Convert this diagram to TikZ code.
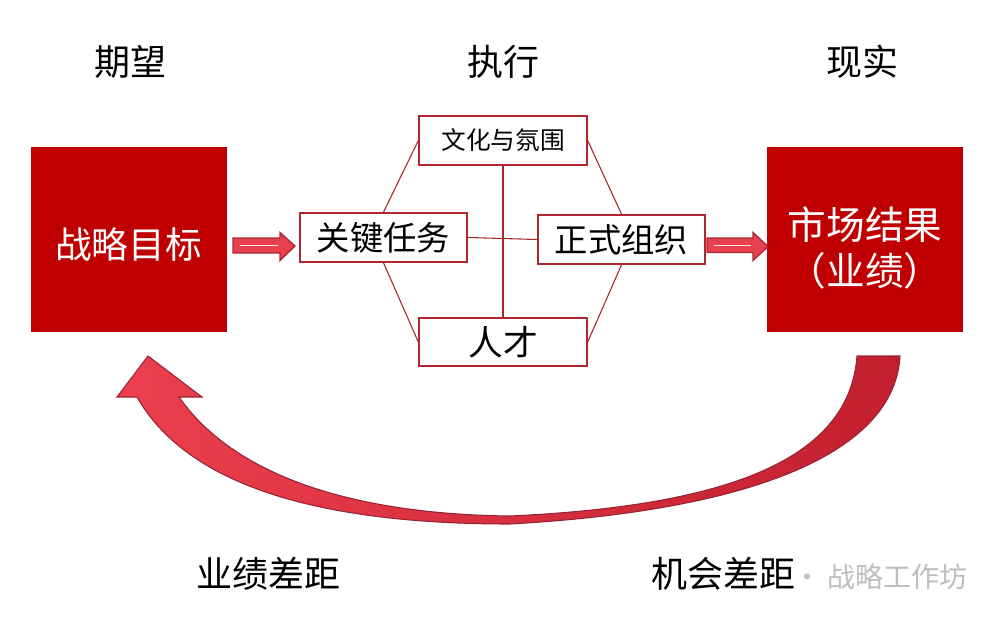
\documentclass[tikz,border=0pt]{standalone}
\usepackage{fontspec}
\setmainfont{Noto Sans CJK SC}
\usetikzlibrary{calc}
\definecolor{boxred}{HTML}{C00000}
\definecolor{linered}{HTML}{A3282C}
\definecolor{framered}{HTML}{B3262E}
\definecolor{arrowfill}{HTML}{E8404C}
\definecolor{arrowedge}{HTML}{A8283A}
\definecolor{curveL}{HTML}{EC3F4D}
\definecolor{curveR}{HTML}{C21F2F}
\definecolor{wm}{HTML}{BEBEBE}
\tikzset{
  bigbox/.style={fill=boxred, draw=boxred, minimum width=146.5pt, minimum height=138pt, inner sep=0pt},
  bigtext/.style={text=white, align=center, inner sep=0pt},
  smallbox/.style={draw=framered, line width=1.5pt, fill=white, minimum width=125.5pt, minimum height=36.5pt, inner sep=0pt},
  conn/.style={draw=linered, line width=0.8pt},
  title/.style={font=\fontsize{27}{30}\selectfont, text=black},
  blockarrow/.style={fill=arrowfill, draw=arrowedge, line width=1pt, line join=miter},
  hilite/.style={draw=white!85!arrowfill, line width=0.8pt},
}
\begin{document}
\begin{tikzpicture}[x=0.75pt,y=-0.75pt]
\useasboundingbox (0,0) rectangle (1003,617);
\fill[white] (0,0) rectangle (1003,617);

% titles
\node[title] (t1) at (130,62) {期望};
\node[title] (t2) at (503,62) {执行};
\node[title] (t3) at (862,62) {现实};

% big boxes
\node[bigbox] (goal) at (128.5,239) {};
\node[bigtext, font=\fontsize{27.5}{30}\selectfont] (goaltext) at ($(goal.center)+(0,6)$) {战略目标};
\node[bigbox] (result) at (865,239) {};
\node[bigtext, font=\fontsize{29}{34}\selectfont] (resulttext) at ($(result.center)+(0,9)$) {市场结果\\（业绩）};

% execution boxes
\node[smallbox, font=\fontsize{18.5}{20}\selectfont] (culture) at (503,140.5) {文化与氛围};
\node[smallbox, font=\fontsize{25}{28}\selectfont] (task) at (383.5,237.5) {关键任务};
\node[smallbox, font=\fontsize{25}{28}\selectfont] (org) at (621.5,239.5) {正式组织};
\node[smallbox, font=\fontsize{26}{28}\selectfont] (talent) at (503,342) {人才};

% connectors
\draw[conn] (culture.west) -- (task.north);
\draw[conn] (task.south) -- (talent.west);
\draw[conn] (culture.east) -- (org.north);
\draw[conn] (org.south) -- (talent.east);
\draw[conn] (culture.south) -- (talent.north);
\draw[conn] (task.east) -- (org.west);

% block arrows
\draw[blockarrow] (233,238) -- (280,238) -- (280,232.5) -- (295,246) -- (280,260.5) -- (280,253) -- (233,253) -- cycle;
\draw[hilite] (240,245.5) -- (278,245.5);
\draw[blockarrow] (707,238) -- (753,238) -- (753,232.5) -- (768,246.5) -- (753,260.5) -- (753,252.5) -- (707,252.5) -- cycle;
\draw[hilite] (714,245.5) -- (751,245.5);

% big curved arrow
\shadedraw[left color=curveL, right color=curveR, draw=arrowedge!90!black, line width=0.8pt, line join=miter]
  (900,356) .. controls (895,450) and (760,510) .. (510,524)
  .. controls (330,524) and (190,490) .. (137,397)
  -- (117,397) -- (148,356) -- (202,397) -- (179,397)
  .. controls (230,470) and (340,514) .. (510,516)
  .. controls (750,505) and (850,450) .. (857,356) -- cycle;

% bottom labels
\node[title] (gap1) at (268,574) {业绩差距};
\node[title] (gap2) at (723,574) {机会差距};
\node[font=\fontsize{21}{24}\selectfont, text=wm, anchor=east] (wmk) at (972,577) {· 战略工作坊};
\end{tikzpicture}
\end{document}
